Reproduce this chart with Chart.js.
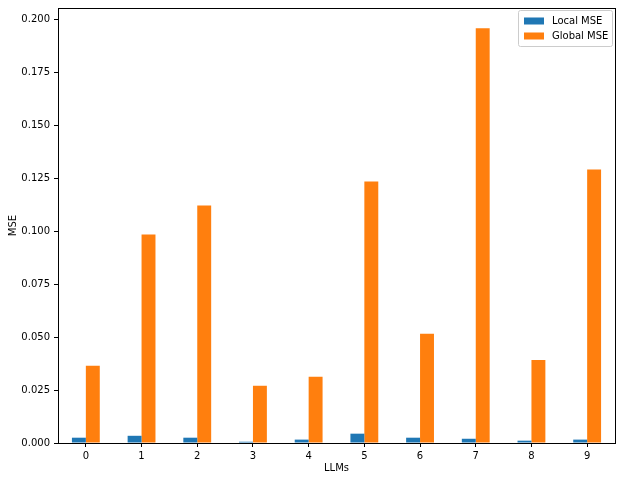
<!DOCTYPE html>
<html>
<head>
<meta charset="utf-8">
<script src="https://cdn.jsdelivr.net/npm/chart.js@4"></script>
<style>
  html, body { margin: 0; padding: 0; background: #fff; }
  #wrap { width: 622px; height: 480px; }
</style>
</head>
<body>
<div id="wrap"><canvas id="grafico" width="622" height="480"></canvas></div>
<script>
const categorias = ['0', '1', '2', '3', '4', '5', '6', '7', '8', '9'];
const localMse = [0.0025, 0.0034, 0.0025, 0.0006, 0.0016, 0.0044, 0.0025, 0.0020, 0.0011, 0.0016];
const globalMse = [0.0364, 0.0983, 0.1120, 0.0270, 0.0312, 0.1234, 0.0515, 0.1957, 0.0392, 0.1290];
const yTicks = [0, 0.025, 0.05, 0.075, 0.1, 0.125, 0.15, 0.175, 0.2];

const fonte = { family: 'DejaVu Sans', size: 10 };
Chart.defaults.color = '#000';

// moldura (4 lados) + legenda dentro do gráfico, estilo matplotlib
const molduraLegenda = {
    id: 'molduraLegenda',
    afterDraw(chart) {
        const { ctx, chartArea: a } = chart;
        ctx.save();
        ctx.strokeStyle = '#000';
        ctx.lineWidth = 1;
        ctx.strokeRect(Math.round(a.left) + 0.5, Math.round(a.top) + 0.5,
            Math.round(a.right - a.left), Math.round(a.bottom - a.top));

        const bx = a.right - 97, by = a.top + 2, bw = 94, bh = 36;
        ctx.fillStyle = 'rgba(255,255,255,0.8)';
        ctx.strokeStyle = '#ccc';
        ctx.beginPath();
        ctx.roundRect(bx + 0.5, by + 0.5, bw, bh, 2);
        ctx.fill();
        ctx.stroke();

        ctx.font = '10px "DejaVu Sans"';
        ctx.textBaseline = 'middle';
        chart.data.datasets.forEach((ds, i) => {
            const y = by + 11 + i * 15;
            ctx.fillStyle = ds.backgroundColor;
            ctx.fillRect(bx + 6, y - 3.5, 20, 7);
            ctx.fillStyle = '#000';
            ctx.fillText(ds.label, bx + 34, y);
        });
        ctx.restore();
    }
};

const ctx = document.getElementById('grafico').getContext('2d');
new Chart(ctx, {
    type: 'bar',
    data: {
        labels: categorias,
        datasets: [
            { label: 'Local MSE', backgroundColor: '#1f77b4', data: localMse },
            { label: 'Global MSE', backgroundColor: '#ff7f0e', data: globalMse }
        ]
    },
    options: {
        responsive: false,
        animation: false,
        categoryPercentage: 0.5,
        barPercentage: 1,
        layout: { padding: { top: 8, right: 7, left: 0, bottom: 0 } },
        plugins: {
            legend: { display: false },
            tooltip: { enabled: false }
        },
        scales: {
            x: {
                offset: true,
                grid: { display: true, drawOnChartArea: false, drawTicks: true, tickLength: 4, color: '#000', offset: false },
                border: { display: false },
                ticks: { font: fonte, padding: 3, maxRotation: 0 },
                title: { display: true, text: 'LLMs', font: fonte, padding: { top: 0, bottom: 6 } },
                afterFit(scale) { scale.height = 37; }
            },
            y: {
                min: 0,
                max: 0.2052,
                grid: { display: true, drawOnChartArea: false, drawTicks: true, tickLength: 4, color: '#000' },
                border: { display: false },
                afterBuildTicks(scale) { scale.ticks = yTicks.map(v => ({ value: v })); },
                ticks: { font: fonte, padding: 4, callback: v => Number(v).toFixed(3) },
                title: { display: true, text: 'MSE', font: fonte, padding: { top: 7, bottom: 0 } },
                afterFit(scale) {
                    scale.width = 58;
                    scale.paddingTop = 0;
                    scale.paddingBottom = 0;
                }
            }
        }
    },
    plugins: [molduraLegenda]
});
</script>
</body>
</html>
